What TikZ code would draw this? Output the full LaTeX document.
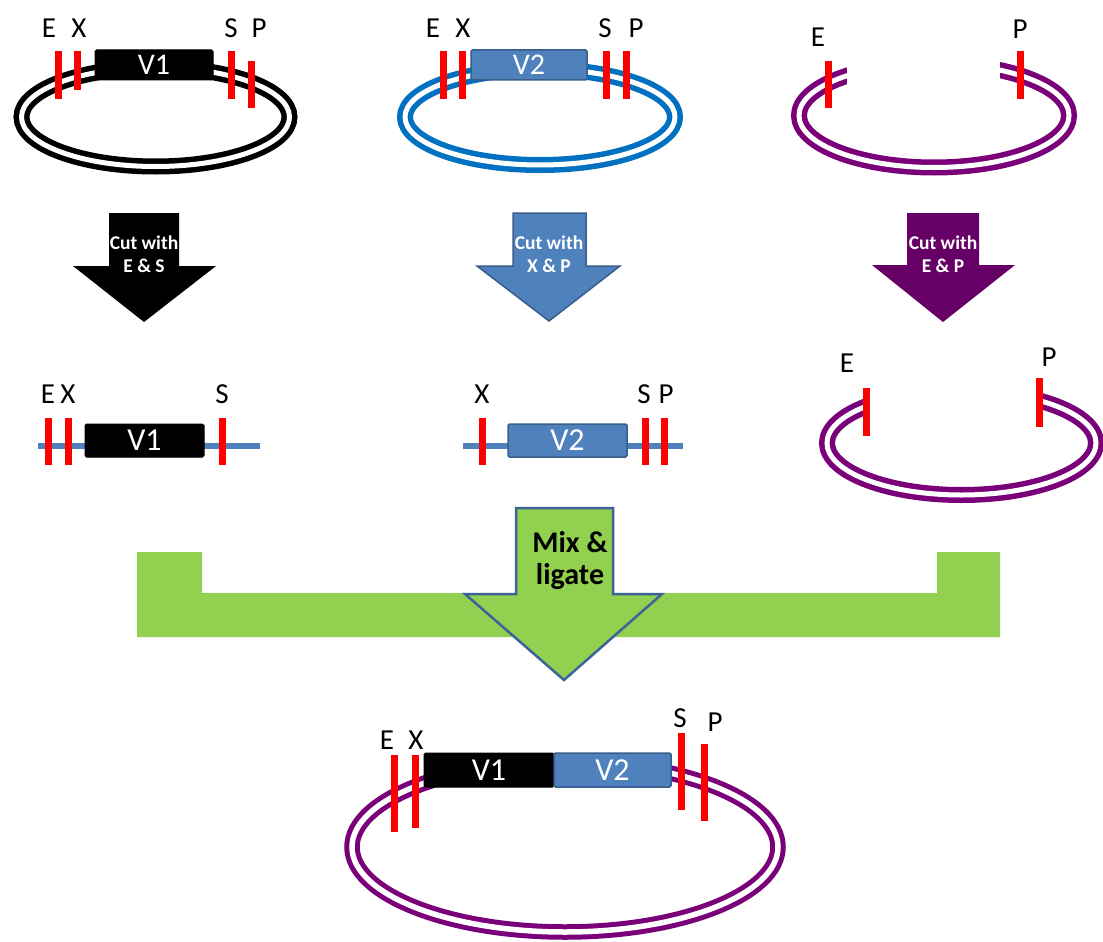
\documentclass[tikz,border=0pt]{standalone}
\usepackage{fontspec}
\setmainfont{Carlito}
\definecolor{sitered}{RGB}{255,0,0}
\definecolor{vblue}{RGB}{79,129,189}
\definecolor{vborder}{RGB}{56,93,138}
\definecolor{ringblue}{RGB}{0,112,192}
\definecolor{ringpurple}{RGB}{122,0,122}
\definecolor{arrowpurple}{RGB}{102,0,102}
\definecolor{ligreen}{RGB}{146,208,80}
\definecolor{garrowborder}{RGB}{60,100,150}
\tikzset{
  site/.style={draw=sitered, line width=7pt},
  lbl/.style={font=\fontsize{29}{32}\selectfont, inner sep=0pt, text=black},
  ring/.style={line width=5.5pt, double=white, double distance=5pt},
  vtxt/.style={font=\fontsize{30}{32}\selectfont, text=white, inner sep=0pt},
  vtxtbig/.style={font=\fontsize{32}{34}\selectfont},
  blackbox/.style={vtxt, fill=black, draw=black, line width=1pt, rounded corners=1.5pt},
  bluebox/.style={vtxt, fill=vblue, draw=vborder, line width=1.5pt, rounded corners=1.5pt},
  dnaline/.style={draw=vblue, line width=6pt},
  cuttxt/.style={font=\bfseries\fontsize{19.5}{23}\selectfont, text=white, align=center, inner sep=0pt},
}
\begin{document}
\begin{tikzpicture}[x=1pt,y=-1pt]
\useasboundingbox (0,0) rectangle (1103,942);
\fill[white] (0,0) rectangle (1103,942);

% ---------- Top left plasmid ----------
\draw[ring, draw=black] (155.5,117) ellipse [x radius=134, y radius=49.5];
\node[blackbox, minimum width=118pt, minimum height=30pt] (v1a) at (154,65) {V1};
\draw[site] (58,51) -- (58,99);
\draw[site] (77,51) -- (77,90);
\draw[site] (231,51) -- (231,99);
\draw[site] (251,61) -- (251,108);
\node[lbl] (aE) at (49,28) {E};
\node[lbl] (aX) at (79,28) {X};
\node[lbl] (aS) at (231,28) {S};
\node[lbl] (aP) at (259,28) {P};

% ---------- Top middle plasmid ----------
\draw[ring, draw=ringblue] (540,117) ellipse [x radius=135, y radius=48];
\node[bluebox, minimum width=116pt, minimum height=30pt] (v2a) at (529,65) {V2};
\draw[site] (443,51) -- (443,99);
\draw[site] (462,51) -- (462,99);
\draw[site] (606,51) -- (606,99);
\draw[site] (626,51) -- (626,99);
\node[lbl] (bE) at (433,28) {E};
\node[lbl] (bX) at (463,28) {X};
\node[lbl] (bS) at (605,28) {S};
\node[lbl] (bP) at (636,28) {P};

% ---------- Top right open plasmid ----------
\draw[ring, draw=ringpurple] (934,115.5) ellipse [x radius=135, y radius=52];
\fill[white] (847,35) rectangle (1000,95);
\draw[site] (828,61) -- (828,108);
\draw[site] (1020,51) -- (1020,99);
\node[lbl] (cE) at (818,37) {E};
\node[lbl] (cP) at (1020,29) {P};

% ---------- Cut arrows ----------
\fill[black] (109,213) -- (179,213) -- (179,266) -- (216,266) -- (144,322) -- (73,266) -- (109,266) -- cycle;
\node[cuttxt] (cut1) at (144,254) {Cut with\\E \& S};

\draw[fill=vblue, draw=vborder, line width=1.5pt] (513,213) -- (586,213) -- (586,266) -- (620,266) -- (549,321) -- (477,266) -- (513,266) -- cycle;
\node[cuttxt] (cut2) at (549,254) {Cut with\\X \& P};

\fill[arrowpurple] (907,213) -- (979,213) -- (979,265) -- (1015,265) -- (943,322) -- (872,265) -- (907,265) -- cycle;
\node[cuttxt] (cut3) at (943,254) {Cut with\\E \& P};

% ---------- Row 3 left fragment ----------
\draw[dnaline] (38,446) -- (260,446);
\node[blackbox, vtxtbig, minimum width=119pt, minimum height=33pt] (v1b) at (144.5,440.5) {V1};
\draw[site] (48,418) -- (48,465);
\draw[site] (68,418) -- (68,465);
\draw[site] (222,418) -- (222,465);
\node[lbl] (dE) at (48,394) {E};
\node[lbl] (dX) at (68,394) {X};
\node[lbl] (dS) at (222,394) {S};

% ---------- Row 3 middle fragment ----------
\draw[dnaline] (463,446) -- (683,446);
\node[bluebox, vtxtbig, minimum width=119pt, minimum height=33pt] (v2b) at (567.5,440.5) {V2};
\draw[site] (482,418) -- (482,465);
\draw[site] (645,418) -- (645,465);
\draw[site] (664,418) -- (664,465);
\node[lbl] (eX) at (482,394) {X};
\node[lbl] (eS) at (644,394) {S};
\node[lbl] (eP) at (666,394) {P};

% ---------- Row 3 right open plasmid ----------
\draw[ring, draw=ringpurple] (961.5,443) ellipse [x radius=134.5, y radius=52];
\fill[white] (866,365) rectangle (1038,423);
\draw[site] (866,388) -- (866,436);
\draw[site] (1039,378) -- (1039,427);
\node[lbl] (fE) at (847,363) {E};
\node[lbl] (fP) at (1049,357) {P};

% ---------- Mix & ligate ----------
\fill[ligreen] (137,552) -- (202,552) -- (202,593) -- (937,593) -- (937,552) -- (1000,552) -- (1000,637) -- (137,637) -- cycle;
\draw[fill=ligreen, draw=garrowborder, line width=2.5pt, line join=miter] (516,508) -- (613,508) -- (613,594) -- (662,594) -- (564,680) -- (465,594) -- (516,594) -- cycle;
\node[font=\bfseries\fontsize{30}{32}\selectfont, align=center, inner sep=0pt] (mix) at (570,561) {Mix \&\\ligate};

% ---------- Bottom plasmid ----------
\draw[ring, draw=ringpurple, line width=5pt, double distance=5.5pt] (565,847) ellipse [x radius=213, y radius=85];
\node[blackbox, vtxtbig, minimum width=130pt, minimum height=34pt] (v1c) at (489,770) {V1};
\node[bluebox, vtxtbig, minimum width=117pt, minimum height=34pt] (v2c) at (612.5,770) {V2};
\draw[site] (394,755) -- (394,832);
\draw[site] (415,755) -- (415,828);
\draw[site] (681,733) -- (681,810);
\draw[site] (704,744) -- (704,821);
\node[lbl] (gE) at (387,740) {E};
\node[lbl] (gX) at (416,740) {X};
\node[lbl] (gS) at (680,718) {S};
\node[lbl] (gP) at (715,722) {P};
\end{tikzpicture}
\end{document}
